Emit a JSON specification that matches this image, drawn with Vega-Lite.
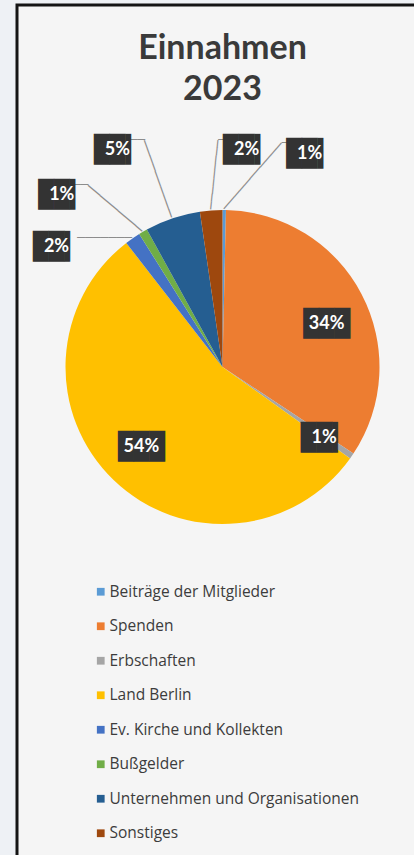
{
  "$schema": "https://vega.github.io/schema/vega-lite/v6.json",
  "width": 414,
  "height": 855,
  "autosize": {"type": "fit", "contains": "padding"},
  "padding": {"left": 17, "top": 5, "right": -14, "bottom": -5},
  "background": "#eef1f5",
  "view": {"stroke": "#141414", "strokeWidth": 3, "fill": "#f5f5f5"},
  "config": {
    "view": {"stroke": "#141414", "strokeWidth": 3, "fill": "#f5f5f5"},
    "font": "Lato"
  },
  "title": {
    "text": ["Einnahmen", "2023"],
    "font": "Lato",
    "fontSize": 34,
    "fontWeight": "bold",
    "color": "#3a3a3a",
    "lineHeight": 41,
    "anchor": "middle",
    "offset": -102
  },
  "data": {
    "values": [
      {"idx": 1, "cat": "Beiträge der Mitglieder", "value": 0.35, "label": "1%"},
      {"idx": 2, "cat": "Spenden", "value": 33.95, "label": "34%"},
      {"idx": 3, "cat": "Erbschaften", "value": 0.6, "label": "1%"},
      {"idx": 4, "cat": "Land Berlin", "value": 54.6, "label": "54%"},
      {"idx": 5, "cat": "Ev. Kirche und Kollekten", "value": 1.6, "label": "2%"},
      {"idx": 6, "cat": "Bußgelder", "value": 0.9, "label": "1%"},
      {"idx": 7, "cat": "Unternehmen und Organisationen", "value": 5.7, "label": "5%"},
      {"idx": 8, "cat": "Sonstiges", "value": 2.3, "label": "2%"}
    ]
  },
  "transform": [
    {"stack": "value", "groupby": [], "sort": [{"field": "idx", "order": "ascending"}], "as": ["v0", "v1"]},
    {"calculate": "(datum.v0 + datum.v1) / 2", "as": "mid"}
  ],
  "layer": [
    {
      "mark": {"type": "arc", "outerRadius": 157, "x": {"expr": "width/2"}, "y": 362},
      "encoding": {
        "theta": {"field": "v0", "type": "quantitative", "scale": {"domain": [0, 100]}},
        "theta2": {"field": "v1"},
        "color": {
          "field": "cat",
          "type": "nominal",
          "sort": null,
          "scale": {
            "domain": ["Beiträge der Mitglieder", "Spenden", "Erbschaften", "Land Berlin", "Ev. Kirche und Kollekten", "Bußgelder", "Unternehmen und Organisationen", "Sonstiges"],
            "range": ["#5b9bd5", "#ed7d31", "#a5a5a5", "#ffc000", "#4472c4", "#70ad47", "#255e91", "#9e480e"]
          },
          "legend": {
            "title": null,
            "orient": "none",
            "legendX": 76,
            "legendY": 579,
            "symbolType": "square",
            "symbolSize": 60,
            "symbolStrokeWidth": 0,
            "labelFont": "Open Sans",
            "labelFontSize": 15.5,
            "labelColor": "#3c3c3c",
            "labelOffset": 1,
            "rowPadding": 17.5,
            "labelLimit": 400
          }
        }
      }
    },
    {
      "transform": [{"filter": "datum.cat == 'Beiträge der Mitglieder'"}],
      "mark": {"type": "text", "radius": 158, "angle": 311.2, "x": {"expr": "width/2"}, "y": 362, "font": "DejaVu Sans Mono", "fontSize": 13.18, "color": "#8c8c8c", "baseline": "middle", "align": "left"},
      "encoding": {"theta": {"field": "mid", "type": "quantitative"}, "text": {"value": "───────────"}}
    },
    {
      "transform": [{"filter": "datum.cat == 'Beiträge der Mitglieder'"}],
      "mark": {"type": "text", "radius": 158, "dx": 57.5, "dy": -65.7, "x": {"expr": "width/2"}, "y": 362, "font": "DejaVu Sans Mono", "fontSize": 13, "color": "#8c8c8c", "baseline": "middle", "align": "left"},
      "encoding": {"theta": {"field": "mid", "type": "quantitative"}, "text": {"value": "──"}}
    },
    {
      "transform": [{"filter": "datum.cat == 'Sonstiges'"}],
      "mark": {"type": "text", "radius": 158, "angle": 275.9, "x": {"expr": "width/2"}, "y": 362, "font": "DejaVu Sans Mono", "fontSize": 12.88, "color": "#8c8c8c", "baseline": "middle", "align": "left"},
      "encoding": {"theta": {"field": "mid", "type": "quantitative"}, "text": {"value": "─────────"}}
    },
    {
      "transform": [{"filter": "datum.cat == 'Sonstiges'"}],
      "mark": {"type": "text", "radius": 158, "dx": 7.2, "dy": -69.4, "x": {"expr": "width/2"}, "y": 362, "font": "DejaVu Sans Mono", "fontSize": 13, "color": "#8c8c8c", "baseline": "middle", "align": "left"},
      "encoding": {"theta": {"field": "mid", "type": "quantitative"}, "text": {"value": "──"}}
    },
    {
      "transform": [{"filter": "datum.cat == 'Unternehmen und Organisationen'"}],
      "mark": {"type": "text", "radius": 158, "angle": 250.5, "x": {"expr": "width/2"}, "y": 362, "font": "DejaVu Sans Mono", "fontSize": 13.6, "color": "#8c8c8c", "baseline": "middle", "align": "left"},
      "encoding": {"theta": {"field": "mid", "type": "quantitative"}, "text": {"value": "──────────"}}
    },
    {
      "transform": [{"filter": "datum.cat == 'Unternehmen und Organisationen'"}],
      "mark": {"type": "text", "radius": 158, "dx": -27.3, "dy": -77.2, "x": {"expr": "width/2"}, "y": 362, "font": "DejaVu Sans Mono", "fontSize": 13, "color": "#8c8c8c", "baseline": "middle", "align": "right"},
      "encoding": {"theta": {"field": "mid", "type": "quantitative"}, "text": {"value": "──"}}
    },
    {
      "transform": [{"filter": "datum.cat == 'Bußgelder'"}],
      "mark": {"type": "text", "radius": 158, "angle": 220.2, "x": {"expr": "width/2"}, "y": 362, "font": "DejaVu Sans Mono", "fontSize": 13.1, "color": "#8c8c8c", "baseline": "middle", "align": "left"},
      "encoding": {"theta": {"field": "mid", "type": "quantitative"}, "text": {"value": "─────────"}}
    },
    {
      "transform": [{"filter": "datum.cat == 'Bußgelder'"}],
      "mark": {"type": "text", "radius": 158, "dx": -54.2, "dy": -45.8, "x": {"expr": "width/2"}, "y": 362, "font": "DejaVu Sans Mono", "fontSize": 13, "color": "#8c8c8c", "baseline": "middle", "align": "right"},
      "encoding": {"theta": {"field": "mid", "type": "quantitative"}, "text": {"value": "──"}}
    },
    {
      "transform": [{"filter": "datum.cat == 'Ev. Kirche und Kollekten'"}],
      "mark": {"type": "text", "radius": 158, "angle": 180, "x": {"expr": "width/2"}, "y": 362, "font": "DejaVu Sans Mono", "fontSize": 13, "color": "#8c8c8c", "baseline": "middle", "align": "left"},
      "encoding": {"theta": {"field": "mid", "type": "quantitative"}, "text": {"value": "───────"}}
    },
    {
      "transform": [{"filter": "datum.cat == 'Spenden'"}],
      "mark": {"type": "text", "radius": 113, "dx": 4, "dy": 9, "x": {"expr": "width/2"}, "y": 362, "font": "DejaVu Sans Mono", "fontSize": 26, "color": "#333333", "baseline": "middle", "align": "center"},
      "encoding": {"theta": {"field": "mid", "type": "quantitative"}, "text": {"value": "███"}}
    },
    {
      "transform": [{"filter": "datum.cat == 'Spenden'"}],
      "mark": {"type": "text", "radius": 113, "dx": 4, "dy": 9, "x": {"expr": "width/2"}, "y": 362, "font": "Lato", "fontSize": 18, "fontWeight": "bold", "color": "#ffffff", "baseline": "middle", "align": "center"},
      "encoding": {"theta": {"field": "mid", "type": "quantitative"}, "text": {"field": "label"}}
    },
    {
      "transform": [{"filter": "datum.cat == 'Erbschaften'"}],
      "mark": {"type": "text", "radius": 123.5, "dx": 0, "dy": 1, "x": {"expr": "width/2"}, "y": 362, "font": "DejaVu Sans Mono", "fontSize": 26, "color": "#333333", "baseline": "middle", "align": "center"},
      "encoding": {"theta": {"field": "mid", "type": "quantitative"}, "text": {"value": "██▍"}}
    },
    {
      "transform": [{"filter": "datum.cat == 'Erbschaften'"}],
      "mark": {"type": "text", "radius": 123.5, "dx": 0, "dy": 1, "x": {"expr": "width/2"}, "y": 362, "font": "Lato", "fontSize": 18, "fontWeight": "bold", "color": "#ffffff", "baseline": "middle", "align": "center"},
      "encoding": {"theta": {"field": "mid", "type": "quantitative"}, "text": {"field": "label"}}
    },
    {
      "transform": [{"filter": "datum.cat == 'Land Berlin'"}],
      "mark": {"type": "text", "radius": 114, "dx": -2, "dy": -2, "x": {"expr": "width/2"}, "y": 362, "font": "DejaVu Sans Mono", "fontSize": 26, "color": "#333333", "baseline": "middle", "align": "center"},
      "encoding": {"theta": {"field": "mid", "type": "quantitative"}, "text": {"value": "███"}}
    },
    {
      "transform": [{"filter": "datum.cat == 'Land Berlin'"}],
      "mark": {"type": "text", "radius": 114, "dx": -2, "dy": -2, "x": {"expr": "width/2"}, "y": 362, "font": "Lato", "fontSize": 18, "fontWeight": "bold", "color": "#ffffff", "baseline": "middle", "align": "center"},
      "encoding": {"theta": {"field": "mid", "type": "quantitative"}, "text": {"field": "label"}}
    },
    {
      "transform": [{"filter": "datum.cat == 'Beiträge der Mitglieder'"}],
      "mark": {"type": "text", "radius": 200, "dx": 85, "dy": -13.5, "x": {"expr": "width/2"}, "y": 362, "font": "DejaVu Sans Mono", "fontSize": 26, "color": "#333333", "baseline": "middle", "align": "center"},
      "encoding": {"theta": {"field": "mid", "type": "quantitative"}, "text": {"value": "██▍"}}
    },
    {
      "transform": [{"filter": "datum.cat == 'Beiträge der Mitglieder'"}],
      "mark": {"type": "text", "radius": 200, "dx": 85, "dy": -13.5, "x": {"expr": "width/2"}, "y": 362, "font": "Lato", "fontSize": 18, "fontWeight": "bold", "color": "#ffffff", "baseline": "middle", "align": "center"},
      "encoding": {"theta": {"field": "mid", "type": "quantitative"}, "text": {"field": "label"}}
    },
    {
      "transform": [{"filter": "datum.cat == 'Sonstiges'"}],
      "mark": {"type": "text", "radius": 200, "dx": 38.5, "dy": -17.5, "x": {"expr": "width/2"}, "y": 362, "font": "DejaVu Sans Mono", "fontSize": 26, "color": "#333333", "baseline": "middle", "align": "center"},
      "encoding": {"theta": {"field": "mid", "type": "quantitative"}, "text": {"value": "██▍"}}
    },
    {
      "transform": [{"filter": "datum.cat == 'Sonstiges'"}],
      "mark": {"type": "text", "radius": 200, "dx": 38.5, "dy": -17.5, "x": {"expr": "width/2"}, "y": 362, "font": "Lato", "fontSize": 18, "fontWeight": "bold", "color": "#ffffff", "baseline": "middle", "align": "center"},
      "encoding": {"theta": {"field": "mid", "type": "quantitative"}, "text": {"field": "label"}}
    },
    {
      "transform": [{"filter": "datum.cat == 'Unternehmen und Organisationen'"}],
      "mark": {"type": "text", "radius": 200, "dx": -41.5, "dy": -27, "x": {"expr": "width/2"}, "y": 362, "font": "DejaVu Sans Mono", "fontSize": 26, "color": "#333333", "baseline": "middle", "align": "center"},
      "encoding": {"theta": {"field": "mid", "type": "quantitative"}, "text": {"value": "██▍"}}
    },
    {
      "transform": [{"filter": "datum.cat == 'Unternehmen und Organisationen'"}],
      "mark": {"type": "text", "radius": 200, "dx": -41.5, "dy": -27, "x": {"expr": "width/2"}, "y": 362, "font": "Lato", "fontSize": 18, "fontWeight": "bold", "color": "#ffffff", "baseline": "middle", "align": "center"},
      "encoding": {"theta": {"field": "mid", "type": "quantitative"}, "text": {"field": "label"}}
    },
    {
      "transform": [{"filter": "datum.cat == 'Bußgelder'"}],
      "mark": {"type": "text", "radius": 200, "dx": -59.5, "dy": 0.5, "x": {"expr": "width/2"}, "y": 362, "font": "DejaVu Sans Mono", "fontSize": 26, "color": "#333333", "baseline": "middle", "align": "center"},
      "encoding": {"theta": {"field": "mid", "type": "quantitative"}, "text": {"value": "██▍"}}
    },
    {
      "transform": [{"filter": "datum.cat == 'Bußgelder'"}],
      "mark": {"type": "text", "radius": 200, "dx": -59.5, "dy": 0.5, "x": {"expr": "width/2"}, "y": 362, "font": "Lato", "fontSize": 18, "fontWeight": "bold", "color": "#ffffff", "baseline": "middle", "align": "center"},
      "encoding": {"theta": {"field": "mid", "type": "quantitative"}, "text": {"field": "label"}}
    },
    {
      "transform": [{"filter": "datum.cat == 'Ev. Kirche und Kollekten'"}],
      "mark": {"type": "text", "radius": 200, "dx": -51.5, "dy": 44, "x": {"expr": "width/2"}, "y": 362, "font": "DejaVu Sans Mono", "fontSize": 26, "color": "#333333", "baseline": "middle", "align": "center"},
      "encoding": {"theta": {"field": "mid", "type": "quantitative"}, "text": {"value": "██▍"}}
    },
    {
      "transform": [{"filter": "datum.cat == 'Ev. Kirche und Kollekten'"}],
      "mark": {"type": "text", "radius": 200, "dx": -51.5, "dy": 44, "x": {"expr": "width/2"}, "y": 362, "font": "Lato", "fontSize": 18, "fontWeight": "bold", "color": "#ffffff", "baseline": "middle", "align": "center"},
      "encoding": {"theta": {"field": "mid", "type": "quantitative"}, "text": {"field": "label"}}
    }
  ]
}
